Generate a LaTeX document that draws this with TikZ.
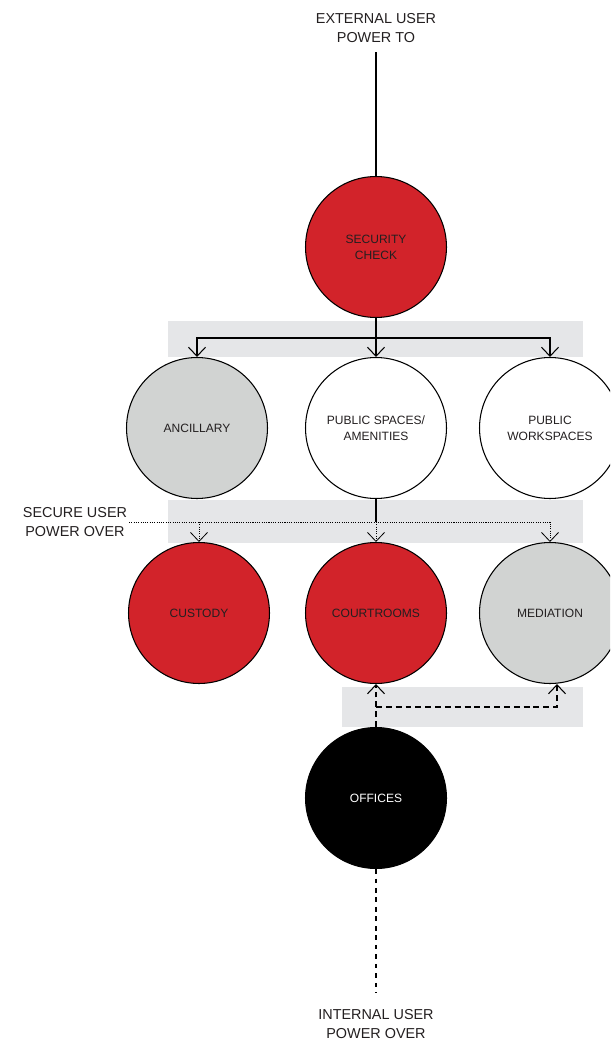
\documentclass[tikz,border=0pt]{standalone}
\usepackage{fontspec}
\setmainfont{Liberation Sans}
\usetikzlibrary{arrows.meta, positioning, calc}
\definecolor{courtred}{RGB}{210,35,42}
\definecolor{circlegray}{RGB}{209,211,210}
\definecolor{bandgray}{RGB}{229,230,232}
\definecolor{inkgray}{RGB}{35,31,32}

\begin{document}
\begin{tikzpicture}[x=0.02cm, y=-0.02cm,
    space/.style={circle, draw=black, line width=0.6pt, minimum size=2.82cm, inner sep=0pt, align=center, font=\fontsize{6.85}{9.1}\selectfont, text=inkgray},
    redspace/.style={space, fill=courtred},
    grayspace/.style={space, fill=circlegray},
    openspace/.style={space, fill=white},
    darkspace/.style={space, fill=black, text=white},
    band/.style={fill=bandgray, draw=none},
    usertext/.style={align=center, inner sep=1pt, font=\fontsize{8.2}{10.8}\selectfont, text=inkgray},
    link/.style={line width=0.6pt, color=black},
    flow/.style={link, -{Straight Barb[length=1.8mm, width=3.4mm]}},
    secure/.style={flow, line width=0.45pt, dash pattern=on 0.6pt off 0.7pt},
    internal/.style={flow, dash pattern=on 3.4pt off 2.2pt},
    internalline/.style={link, dash pattern=on 2.6pt off 2.8pt}
]
\clip (0,0) rectangle (610,1048);
% grey bands behind the connectors
\fill[band] (168,321) rectangle (583,357);
\fill[band] (168,500) rectangle (583,543);
\fill[band] (342,687) rectangle (583,727);
% spaces
\node[redspace] (security) at (376,247) {SECURITY\\CHECK};
\node[grayspace] (ancillary) at (197,428) {ANCILLARY};
\node[openspace] (publicspaces) at (376,428) {PUBLIC SPACES/\\AMENITIES};
\node[openspace] (workspaces) at (550,428) {PUBLIC\\WORKSPACES};
\node[redspace] (custody) at (199,613) {CUSTODY};
\node[redspace] (courtrooms) at (376,613) {COURTROOMS};
\node[grayspace] (mediation) at (550,613) {MEDIATION};
\node[darkspace] (offices) at (376,798) {OFFICES};
% users
\node[usertext] (extuser) at (376,28) {EXTERNAL USER\\POWER TO};
\node[usertext] (secuser) at (75,522) {SECURE USER\\POWER OVER};
\node[usertext] (intuser) at (376,1024) {INTERNAL USER\\POWER OVER};
\coordinate (extend) at (376,52);
\coordinate (intend) at (376,993);
\coordinate (split) at (376,338);
\coordinate (branch) at (376,707);
\coordinate (medin) at ([xshift=0.14cm]mediation.south);
% external user
\draw[link] (extend) -- (security.north);
\draw[flow] (security.south) -- (publicspaces.north);
\draw[flow] (split) -| (ancillary.north);
\draw[flow] (split) -| (workspaces.north);
% secure user
\draw[link] (publicspaces.south) -- (secuser.east -| publicspaces.south);
\draw[secure] (secuser.east) -| (mediation.north);
\draw[secure] (secuser.east -| custody.north) -- (custody.north);
\draw[secure] (secuser.east -| courtrooms.north) -- (courtrooms.north);
% internal user
\draw[internal] (offices.north) -- (courtrooms.south);
\draw[internal] (branch) -| (medin);
\draw[internalline] (offices.south) -- (intend);
\end{tikzpicture}
\end{document}
